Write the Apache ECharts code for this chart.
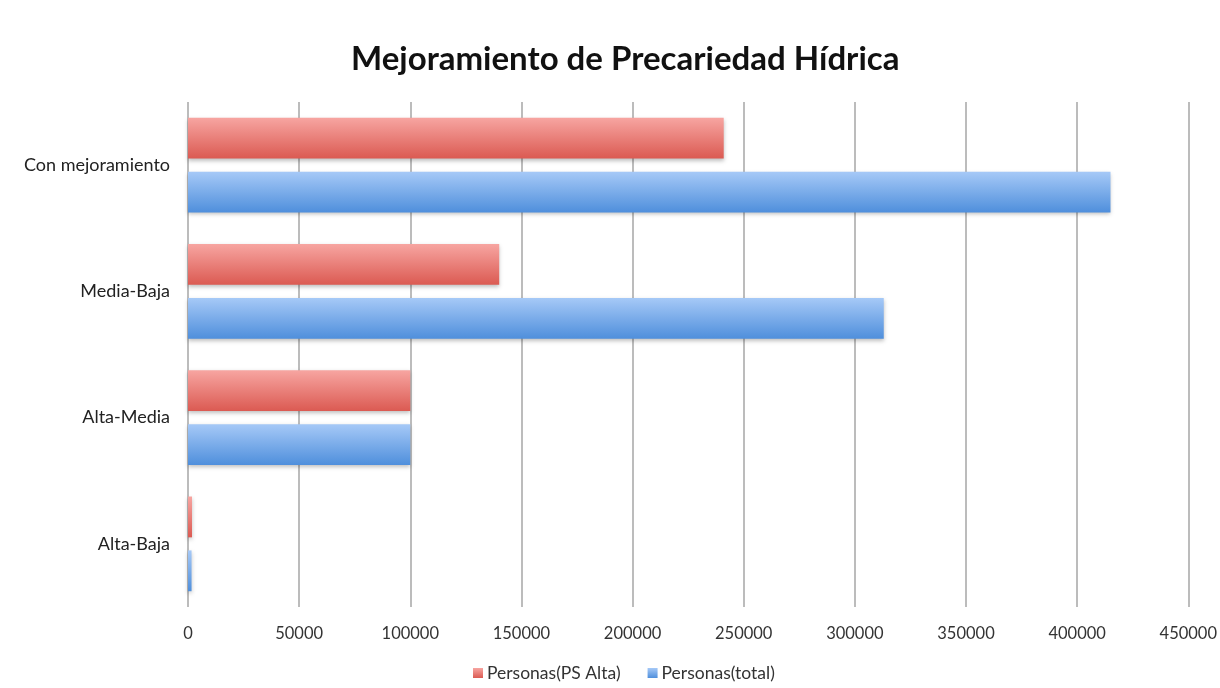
<!DOCTYPE html>
<html>
<head>
<meta charset="utf-8">
<script src="https://cdn.jsdelivr.net/npm/echarts@6/dist/echarts.min.js"></script>
<style>
  html, body { margin: 0; padding: 0; background: #ffffff; }
  #chart { width: 1220px; height: 688px; }
</style>
</head>
<body>
<div id="chart"></div>
<script>
// Categories listed bottom to top along the vertical axis
const categories = ['Alta-Baja', 'Alta-Media', 'Media-Baja', 'Con mejoramiento'];
const seriesNames = ['Personas(PS Alta)', 'Personas(total)'];
const personasPSAlta = [1800, 100000, 140000, 241000];
const personasTotal = [1600, 100000, 313000, 415000];
const xTicks = { min: 0, max: 450000, interval: 50000 };

const FONT = 'Lato, "Open Sans", sans-serif';

function vGrad(top, bottom) {
  return new echarts.graphic.LinearGradient(0, 0, 0, 1, [
    { offset: 0, color: top },
    { offset: 1, color: bottom }
  ]);
}

const redFill = vGrad('#f7a5a1', '#db5a52');
const blueFill = vGrad('#a6c9f7', '#4f8fdc');
const barShadow = { shadowColor: 'rgba(0,0,0,0.25)', shadowBlur: 4, shadowOffsetY: 2 };

const chart = echarts.init(document.getElementById('chart'), null, { renderer: 'canvas' });

chart.setOption({
  backgroundColor: '#ffffff',
  animation: false,
  title: {
    text: 'Mejoramiento de Precariedad Hídrica',
    left: 346,
    top: 38,
    textStyle: { fontFamily: FONT, fontWeight: 'bold', fontSize: 33, color: '#111111' }
  },
  legend: {
    data: seriesNames,
    top: 664,
    left: 468,
    padding: [0, 5, 0, 5],
    itemWidth: 10,
    itemHeight: 10,
    itemGap: 27,
    icon: 'rect',
    textStyle: { fontFamily: FONT, fontSize: 17.5, color: '#333333', padding: [0, 0, 0, -1] }
  },
  grid: { left: 188, right: 31, top: 102, bottom: 81, containLabel: false },
  xAxis: {
    type: 'value',
    min: xTicks.min,
    max: xTicks.max,
    interval: xTicks.interval,
    axisLine: { show: false },
    axisTick: { show: false },
    axisLabel: {
      fontFamily: FONT, fontSize: 16.5, color: '#333333', margin: 18,
      formatter: v => String(v)
    },
    splitLine: { show: true, lineStyle: { color: '#a6a6a6', width: 1.5 } }
  },
  yAxis: {
    type: 'category',
    data: categories,
    axisLine: { show: false },
    axisTick: { show: false },
    axisLabel: { fontFamily: FONT, fontSize: 18, color: '#222222', margin: 18 },
    splitLine: { show: false }
  },
  series: [
    {
      name: seriesNames[0],
      type: 'bar',
      data: personasPSAlta,
      barGap: '32%',
      barCategoryGap: '25%',
      itemStyle: Object.assign({ color: redFill }, barShadow)
    },
    {
      name: seriesNames[1],
      type: 'bar',
      data: personasTotal,
      barGap: '32%',
      barCategoryGap: '25%',
      itemStyle: Object.assign({ color: blueFill }, barShadow)
    }
  ]
});
</script>
</body>
</html>
